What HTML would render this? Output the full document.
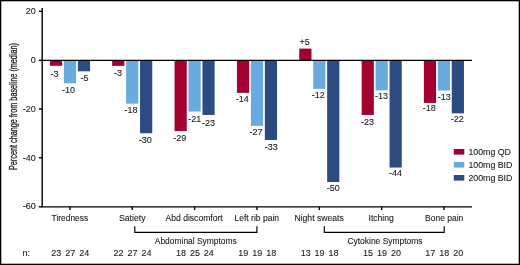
<!DOCTYPE html><html><head><meta charset="utf-8"><style>html,body{margin:0;padding:0;background:#fff;}svg{display:block;will-change:transform;}text{font-family:"Liberation Sans", sans-serif;fill:#1a1a1a;stroke:#1a1a1a;stroke-width:0.1px;}</style></head><body>
<svg width="520" height="265" viewBox="0 0 520 265">
<rect x="0" y="0" width="520" height="265" fill="#fff"/>
<rect x="49.95" y="60.00" width="12.20" height="5.80" fill="#a3002f"/>
<rect x="63.90" y="60.00" width="12.20" height="23.25" fill="#69abdf"/>
<rect x="77.85" y="60.00" width="12.20" height="11.30" fill="#2c4b81"/>
<rect x="112.15" y="60.00" width="12.20" height="5.90" fill="#a3002f"/>
<rect x="126.10" y="60.00" width="12.20" height="43.65" fill="#69abdf"/>
<rect x="140.05" y="60.00" width="12.20" height="73.25" fill="#2c4b81"/>
<rect x="174.55" y="60.00" width="12.20" height="71.05" fill="#a3002f"/>
<rect x="188.50" y="60.00" width="12.20" height="51.55" fill="#69abdf"/>
<rect x="202.45" y="60.00" width="12.20" height="54.95" fill="#2c4b81"/>
<rect x="236.95" y="60.00" width="12.20" height="32.85" fill="#a3002f"/>
<rect x="250.90" y="60.00" width="12.20" height="65.85" fill="#69abdf"/>
<rect x="264.85" y="60.00" width="12.20" height="79.95" fill="#2c4b81"/>
<rect x="299.25" y="48.60" width="12.20" height="11.40" fill="#a3002f"/>
<rect x="313.20" y="60.00" width="12.20" height="28.85" fill="#69abdf"/>
<rect x="327.15" y="60.00" width="12.20" height="122.05" fill="#2c4b81"/>
<rect x="361.65" y="60.00" width="12.20" height="54.95" fill="#a3002f"/>
<rect x="375.60" y="60.00" width="12.20" height="30.35" fill="#69abdf"/>
<rect x="389.55" y="60.00" width="12.20" height="107.55" fill="#2c4b81"/>
<rect x="423.85" y="60.00" width="12.20" height="42.95" fill="#a3002f"/>
<rect x="437.80" y="60.00" width="12.20" height="30.55" fill="#69abdf"/>
<rect x="451.75" y="60.00" width="12.20" height="53.35" fill="#2c4b81"/>
<g stroke="#000" stroke-width="1.4" fill="none">
<line x1="42.2" y1="7.9" x2="42.2" y2="207.45"/>
<line x1="41.5" y1="206.8" x2="472" y2="206.8" stroke-width="1.3"/>
<line x1="42.5" y1="60.35" x2="472" y2="60.35" stroke-width="1.3"/>
<line x1="38.9" y1="11.30" x2="42" y2="11.30"/>
<line x1="38.9" y1="60.35" x2="42" y2="60.35"/>
<line x1="38.9" y1="109.00" x2="42" y2="109.00"/>
<line x1="38.9" y1="157.80" x2="42" y2="157.80"/>
<line x1="38.9" y1="206.80" x2="42" y2="206.80"/>
<line x1="70.00" y1="206.8" x2="70.00" y2="210.0"/>
<line x1="132.20" y1="206.8" x2="132.20" y2="210.0"/>
<line x1="194.60" y1="206.8" x2="194.60" y2="210.0"/>
<line x1="257.00" y1="206.8" x2="257.00" y2="210.0"/>
<line x1="319.30" y1="206.8" x2="319.30" y2="210.0"/>
<line x1="381.70" y1="206.8" x2="381.70" y2="210.0"/>
<line x1="443.90" y1="206.8" x2="443.90" y2="210.0"/>
<polyline stroke-width="1.15" points="134.8,226.2 134.8,232.3 256.9,232.3 256.9,226.2"/>
<polyline stroke-width="1.15" points="324.3,226.2 324.3,232.3 444.2,232.3 444.2,226.2"/>
</g>
<text x="35.8" y="14.10" font-size="9" text-anchor="end">20</text>
<text x="35.8" y="62.90" font-size="9" text-anchor="end">0</text>
<text x="35.8" y="111.70" font-size="9" text-anchor="end">-20</text>
<text x="35.8" y="160.50" font-size="9" text-anchor="end">-40</text>
<text x="35.8" y="209.30" font-size="9" text-anchor="end">-60</text>
<text transform="translate(17.1,170) rotate(-90)" font-size="10" style="stroke-width:0.3px" textLength="127" lengthAdjust="spacingAndGlyphs">Percent change from baseline (median)</text>
<text x="54.60" y="76.70" font-size="9" text-anchor="middle">-3</text>
<text x="68.40" y="93.10" font-size="9" text-anchor="middle">-10</text>
<text x="84.55" y="81.20" font-size="9" text-anchor="middle">-5</text>
<text x="118.00" y="76.10" font-size="9" text-anchor="middle">-3</text>
<text x="131.05" y="113.00" font-size="9" text-anchor="middle">-18</text>
<text x="145.15" y="143.00" font-size="9" text-anchor="middle">-30</text>
<text x="179.85" y="140.70" font-size="9" text-anchor="middle">-29</text>
<text x="194.80" y="121.70" font-size="9" text-anchor="middle">-21</text>
<text x="208.60" y="125.80" font-size="9" text-anchor="middle">-23</text>
<text x="242.25" y="101.80" font-size="9" text-anchor="middle">-14</text>
<text x="256.05" y="135.40" font-size="9" text-anchor="middle">-27</text>
<text x="271.35" y="149.90" font-size="9" text-anchor="middle">-33</text>
<text x="304.70" y="44.60" font-size="9" text-anchor="middle">+5</text>
<text x="318.25" y="97.90" font-size="9" text-anchor="middle">-12</text>
<text x="333.25" y="191.00" font-size="9" text-anchor="middle">-50</text>
<text x="367.55" y="124.50" font-size="9" text-anchor="middle">-23</text>
<text x="381.50" y="99.00" font-size="9" text-anchor="middle">-13</text>
<text x="395.60" y="176.00" font-size="9" text-anchor="middle">-44</text>
<text x="429.15" y="111.00" font-size="9" text-anchor="middle">-18</text>
<text x="444.25" y="100.10" font-size="9" text-anchor="middle">-13</text>
<text x="457.25" y="122.20" font-size="9" text-anchor="middle">-22</text>
<text x="51.60" y="220.90" font-size="9" textLength="36.50" lengthAdjust="spacingAndGlyphs">Tiredness</text>
<text x="118.90" y="220.90" font-size="9" textLength="26.60" lengthAdjust="spacingAndGlyphs">Satiety</text>
<text x="165.50" y="220.90" font-size="9" textLength="57.20" lengthAdjust="spacingAndGlyphs">Abd discomfort</text>
<text x="234.40" y="220.90" font-size="9" textLength="44.70" lengthAdjust="spacingAndGlyphs">Left rib pain</text>
<text x="294.40" y="220.90" font-size="9" textLength="49.40" lengthAdjust="spacingAndGlyphs">Night sweats</text>
<text x="368.60" y="220.90" font-size="9" textLength="25.20" lengthAdjust="spacingAndGlyphs">Itching</text>
<text x="425.10" y="220.90" font-size="9" textLength="38.20" lengthAdjust="spacingAndGlyphs">Bone pain</text>
<text x="154.8" y="243.8" font-size="9" textLength="82" lengthAdjust="spacingAndGlyphs">Abdominal Symptoms</text>
<text x="347.4" y="243.8" font-size="9" textLength="75.2" lengthAdjust="spacingAndGlyphs">Cytokine Symptoms</text>
<text x="22.6" y="256.15" font-size="9">n:</text>
<text x="56.35" y="256.15" font-size="9" text-anchor="middle">23</text>
<text x="70.30" y="256.15" font-size="9" text-anchor="middle">27</text>
<text x="84.25" y="256.15" font-size="9" text-anchor="middle">24</text>
<text x="118.55" y="256.15" font-size="9" text-anchor="middle">22</text>
<text x="132.50" y="256.15" font-size="9" text-anchor="middle">27</text>
<text x="146.45" y="256.15" font-size="9" text-anchor="middle">24</text>
<text x="180.95" y="256.15" font-size="9" text-anchor="middle">18</text>
<text x="194.90" y="256.15" font-size="9" text-anchor="middle">25</text>
<text x="208.85" y="256.15" font-size="9" text-anchor="middle">24</text>
<text x="243.35" y="256.15" font-size="9" text-anchor="middle">19</text>
<text x="257.30" y="256.15" font-size="9" text-anchor="middle">19</text>
<text x="271.25" y="256.15" font-size="9" text-anchor="middle">18</text>
<text x="305.65" y="256.15" font-size="9" text-anchor="middle">13</text>
<text x="319.60" y="256.15" font-size="9" text-anchor="middle">19</text>
<text x="333.55" y="256.15" font-size="9" text-anchor="middle">18</text>
<text x="368.05" y="256.15" font-size="9" text-anchor="middle">15</text>
<text x="382.00" y="256.15" font-size="9" text-anchor="middle">19</text>
<text x="395.95" y="256.15" font-size="9" text-anchor="middle">20</text>
<text x="430.25" y="256.15" font-size="9" text-anchor="middle">17</text>
<text x="444.20" y="256.15" font-size="9" text-anchor="middle">18</text>
<text x="458.15" y="256.15" font-size="9" text-anchor="middle">20</text>
<rect x="453.8" y="149.00" width="10.5" height="5.6" fill="#a3002f"/>
<text x="468.4" y="154.80" font-size="8.8">100mg QD</text>
<rect x="453.8" y="162.00" width="10.5" height="5.6" fill="#69abdf"/>
<text x="468.4" y="167.80" font-size="8.8">100mg BID</text>
<rect x="453.8" y="175.00" width="10.5" height="5.6" fill="#2c4b81"/>
<text x="468.4" y="180.80" font-size="8.8">200mg BID</text>
<rect x="0.65" y="0.65" width="518.7" height="263.7" fill="none" stroke="#000" stroke-width="1.3"/>
</svg></body></html>
